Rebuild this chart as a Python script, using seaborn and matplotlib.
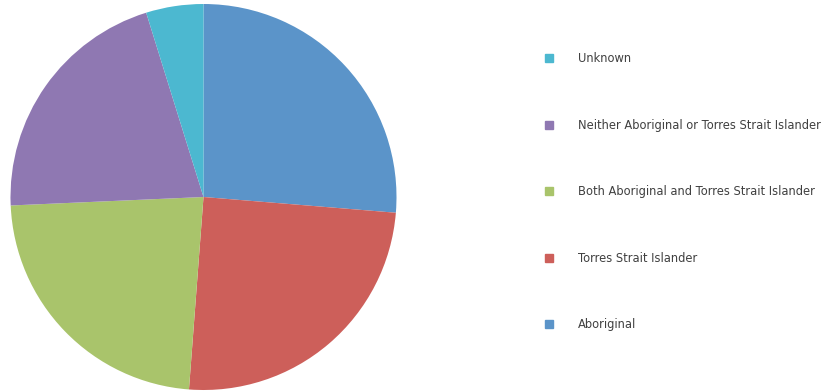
import matplotlib
matplotlib.use("Agg")
import matplotlib.pyplot as plt
from matplotlib.lines import Line2D
import seaborn as sns

# Share of people by Indigenous status (%)
categories = [
    "Aboriginal",
    "Torres Strait Islander",
    "Both Aboriginal and Torres Strait Islander",
    "Neither Aboriginal or Torres Strait Islander",
    "Unknown",
]
shares = [26.3, 24.9, 23.1, 20.9, 4.8]
colors = ["#5b94c9", "#cd5f5a", "#a9c46b", "#8f78b2", "#4cb8d0"]

sns.set_theme(style="white")
plt.rcParams["font.family"] = ["DejaVu Sans"]

fig = plt.figure(figsize=(8.36, 3.92), dpi=100)
fig.patch.set_facecolor("white")

ax = fig.add_axes([10.5 / 836, 2 / 392, 386 / 836, 386 / 392])
ax.pie(
    shares,
    colors=sns.color_palette(colors),
    startangle=90,
    counterclock=False,
    radius=1.0,
    wedgeprops=dict(linewidth=0),
)
ax.set_xlim(-1, 1)
ax.set_ylim(-1, 1)
ax.set_aspect("equal")
ax.axis("off")

# Legend listed bottom-up, matching the stacking of the slices
handles = [
    Line2D([0], [0], marker="s", linestyle="none", markersize=5.5,
           markerfacecolor=c, markeredgecolor=c)
    for c in colors
][::-1]
labels = categories[::-1]
leg = fig.legend(
    handles, labels,
    loc="upper left",
    bbox_to_anchor=(543 / 836, 1 - 52 / 392),
    frameon=False,
    fontsize=8.3,
    labelspacing=4.65,
    handletextpad=2.05,
    handlelength=1.0,
    borderaxespad=0,
    borderpad=0,
)
for t in leg.get_texts():
    t.set_color("#404040")

fig.savefig("out.png", dpi=100, facecolor="white")
